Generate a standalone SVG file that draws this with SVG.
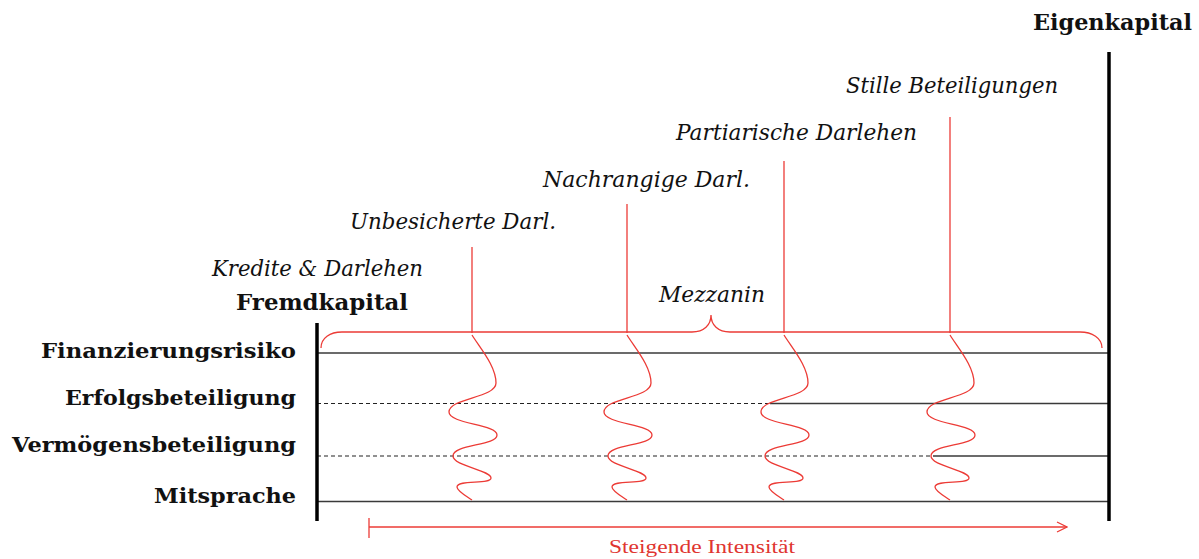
<svg xmlns="http://www.w3.org/2000/svg" width="1199" height="559" viewBox="0 0 1199 559">
<defs>
<style>
.it{font-family:"DejaVu Serif","Liberation Serif",serif;font-style:italic;font-size:22px;fill:#111}
.bd{font-family:"DejaVu Serif","Liberation Serif",serif;font-weight:bold;font-size:23px;fill:#111}
.row{font-family:"DejaVu Serif","Liberation Serif",serif;font-weight:bold;font-size:21px;fill:#111;text-anchor:end}
.red{stroke:#ec3b36;fill:none;stroke-width:1.3}
.hl{stroke:#3a3a3a;stroke-width:1.3;fill:none}
.dash{stroke:#222;stroke-width:1.2;stroke-dasharray:4 3;fill:none}
.axis{stroke:#000;stroke-width:3.5}
</style>
<marker id="open" viewBox="0 0 12 12" refX="11" refY="6" markerWidth="12" markerHeight="12" markerUnits="userSpaceOnUse" orient="auto">
<path d="M1,1 L11,6 L1,11" fill="none" stroke="#ec3b36" stroke-width="1.3"/>
</marker>
<path id="wave" d="M0,335 C8,348 24,366 24,383 C24,398 -23,398 -23,412 C-23,424 25,424 25,435 C25,446 -19,444 -19,456 C-19,466 19,470 19,478 C19,485 -15,479 -15,487 C-15,491 -6,496 0,500"/>
</defs>

<g id="grid">
<line class="hl" x1="317" y1="353" x2="1109" y2="353"/>
<line class="dash" x1="317" y1="403.5" x2="770" y2="403.5"/>
<line class="hl" x1="770" y1="403.5" x2="1109" y2="403.5"/>
<line class="dash" x1="317" y1="456" x2="933" y2="456"/>
<line class="hl" x1="933" y1="456" x2="1109" y2="456"/>
<line class="hl" x1="317" y1="501.5" x2="1109" y2="501.5"/>
</g>

<g id="fremdkapital">
<line class="axis" x1="317" y1="323" x2="317" y2="521"/>
<text class="bd" x="236" y="310" textLength="172" lengthAdjust="spacingAndGlyphs">Fremdkapital</text>
</g>
<g id="eigenkapital">
<line class="axis" x1="1109" y1="52" x2="1109" y2="521"/>
<text class="bd" x="1033" y="30" textLength="159" lengthAdjust="spacingAndGlyphs">Eigenkapital</text>
</g>

<g id="rows">
<text class="row" x="296" y="358" textLength="255" lengthAdjust="spacingAndGlyphs">Finanzierungsrisiko</text>
<text class="row" x="296" y="405" textLength="231" lengthAdjust="spacingAndGlyphs">Erfolgsbeteiligung</text>
<text class="row" x="296" y="452" textLength="284" lengthAdjust="spacingAndGlyphs">Vermögensbeteiligung</text>
<text class="row" x="296" y="503" textLength="142" lengthAdjust="spacingAndGlyphs">Mitsprache</text>
</g>

<g id="mezzanin">
<path class="red" d="M321,348 C321,338 330,332 342,332 L692,332 C704,332 711,325 711,315 C711,325 718,332 730,332 L1080,332 C1092,332 1102,338 1102,348"/>
<text class="it" x="659" y="302" textLength="106" lengthAdjust="spacingAndGlyphs">Mezzanin</text>
</g>

<g id="kredite">
<text class="it" x="212" y="276" textLength="211" lengthAdjust="spacingAndGlyphs">Kredite &amp; Darlehen</text>
</g>

<g id="unbesicherte">
<text class="it" x="350" y="229" textLength="206" lengthAdjust="spacingAndGlyphs">Unbesicherte Darl.</text>
<line class="red" x1="472" y1="247" x2="472" y2="333"/>
<use href="#wave" class="red" transform="translate(472,0)"/>
</g>

<g id="nachrangige">
<text class="it" x="543" y="187" textLength="207" lengthAdjust="spacingAndGlyphs">Nachrangige Darl.</text>
<line class="red" x1="627" y1="204" x2="627" y2="333"/>
<use href="#wave" class="red" transform="translate(627,0)"/>
</g>

<g id="partiarische">
<text class="it" x="676" y="140" textLength="241" lengthAdjust="spacingAndGlyphs">Partiarische Darlehen</text>
<line class="red" x1="784" y1="161" x2="784" y2="333"/>
<use href="#wave" class="red" transform="translate(784,0)"/>
</g>

<g id="stille">
<text class="it" x="846" y="93" textLength="212" lengthAdjust="spacingAndGlyphs">Stille Beteiligungen</text>
<line class="red" x1="950" y1="117" x2="950" y2="333"/>
<use href="#wave" class="red" transform="translate(950,0)"/>
</g>

<g id="connectors">
<line class="red" x1="369" y1="518" x2="369" y2="538"/>
<line class="red" x1="369" y1="527" x2="1067" y2="527" marker-end="url(#open)"/>
</g>

<g id="intensitaet">
<text x="702" y="553" text-anchor="middle" font-family="Liberation Serif, serif" font-size="19" fill="#e03530" textLength="186" lengthAdjust="spacingAndGlyphs">Steigende Intensität</text>
</g>
</svg>
